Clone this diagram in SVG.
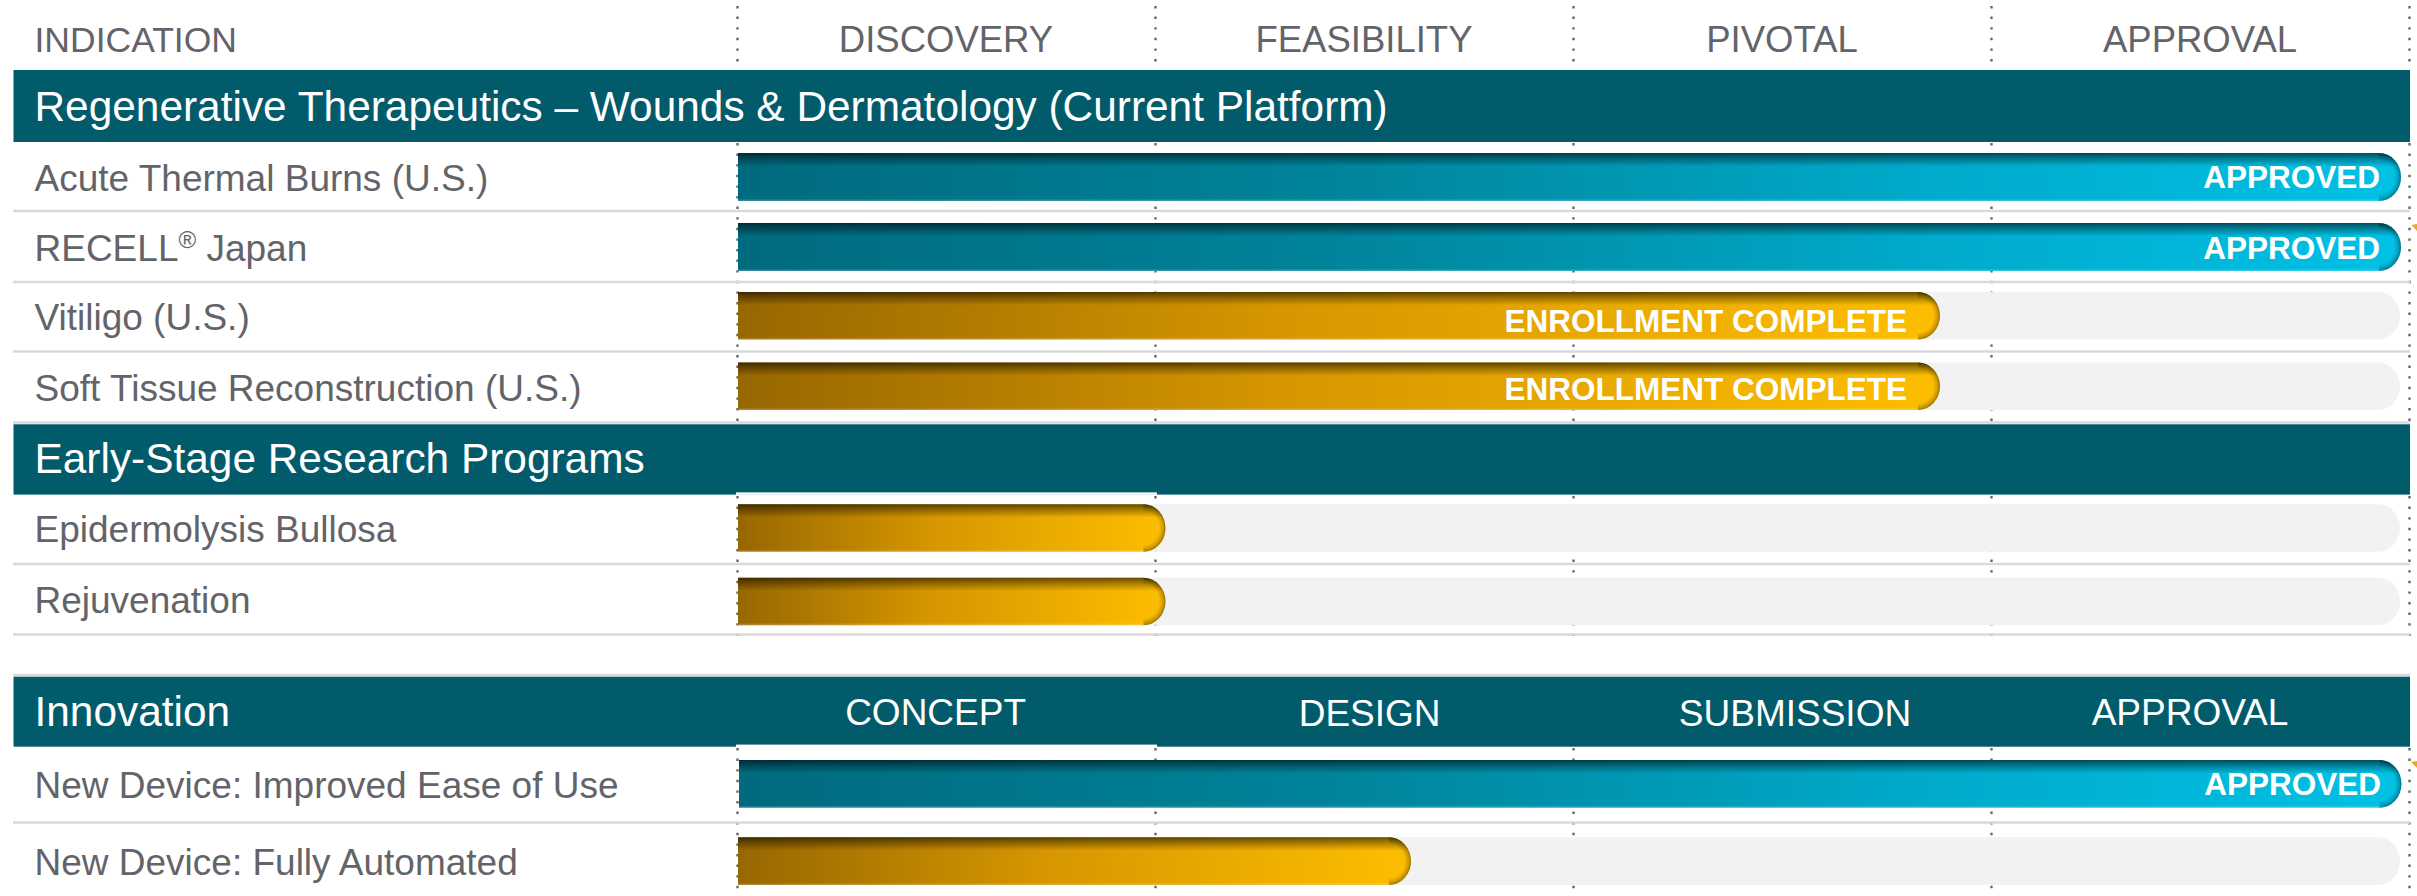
<svg xmlns="http://www.w3.org/2000/svg" width="2417" height="896" viewBox="0 0 2417 896">
<defs>
<style>
.lbl{font-family:"Liberation Sans",Arial,sans-serif;font-size:37px;fill:#636469}
.col{font-family:"Liberation Sans",Arial,sans-serif;font-size:36.5px;fill:#636469;text-anchor:middle}
.hdr{font-family:"Liberation Sans",Arial,sans-serif;font-size:42.4px;fill:#ffffff}
.hcol{font-family:"Liberation Sans",Arial,sans-serif;font-size:37px;fill:#ffffff;text-anchor:middle}
.btxt{font-family:"Liberation Sans",Arial,sans-serif;font-size:31.5px;font-weight:bold;fill:#ffffff;text-anchor:end}
.band{fill:#025b6b}
.sep{stroke:#d9d9d9;stroke-width:2.6}
.grid{stroke:#666;stroke-width:2.4;stroke-dasharray:2.4 8.2;fill:none}
.bg{fill:#f2f2f2}
.teal{fill:url(#gTeal)}
.gold{fill:url(#gGold)}
.shade{fill:url(#gShade)}
.cap{fill:url(#gCap)}
</style>
<linearGradient id="gTeal" x1="0" y1="0" x2="1" y2="0">
<stop offset="0" stop-color="#006a7e"/>
<stop offset="0.35" stop-color="#00839a"/>
<stop offset="0.7" stop-color="#00a9c9"/>
<stop offset="1" stop-color="#00c1e5"/>
</linearGradient>
<linearGradient id="gGold" x1="0" y1="0" x2="1" y2="0">
<stop offset="0" stop-color="#976700"/>
<stop offset="0.45" stop-color="#d69600"/>
<stop offset="1" stop-color="#fdbe00"/>
</linearGradient>
<linearGradient id="gShade" x1="0" y1="0" x2="0" y2="1">
<stop offset="0" stop-color="#000" stop-opacity="0.6"/>
<stop offset="0.08" stop-color="#000" stop-opacity="0.4"/>
<stop offset="0.28" stop-color="#000" stop-opacity="0"/>
<stop offset="0.95" stop-color="#fff" stop-opacity="0"/>
<stop offset="1" stop-color="#fff" stop-opacity="0.25"/>
</linearGradient>
<radialGradient id="gCap" cx="0" cy="0" r="1" gradientTransform="translate(0,0.5) scale(1,0.5)">
<stop offset="0.7" stop-color="#000" stop-opacity="0"/>
<stop offset="0.9" stop-color="#000" stop-opacity="0.2"/>
<stop offset="1" stop-color="#000" stop-opacity="0.4"/>
</radialGradient>
</defs>
<rect width="2417" height="896" fill="#ffffff"/>

<g id="gridlines">
<path class="grid" d="M737.5,6V66M737.5,143V424M737.5,496V636M737.5,748V896"/>
<path class="grid" d="M1155.5,6V66M1155.5,143V424M1155.5,496V636M1155.5,748V896"/>
<path class="grid" d="M1573.5,6V66M1573.5,143V424M1573.5,496V636M1573.5,748V896"/>
<path class="grid" d="M1991.5,6V66M1991.5,143V424M1991.5,496V636M1991.5,748V896"/>
<path class="grid" d="M2409.5,6V66M2409.5,143V424M2409.5,496V636M2409.5,748V896"/>
</g>

<g id="separators">
<line class="sep" x1="13" y1="211" x2="2410" y2="211"/>
<line class="sep" x1="13" y1="282" x2="2410" y2="282"/>
<line class="sep" x1="13" y1="351.5" x2="2410" y2="351.5"/>
<line class="sep" x1="13" y1="422.5" x2="2410" y2="422.5"/>
<line class="sep" x1="13" y1="564" x2="2410" y2="564"/>
<line class="sep" x1="13" y1="634.5" x2="2410" y2="634.5"/>
<line class="sep" x1="13" y1="675" x2="2410" y2="675"/>
<line class="sep" x1="13" y1="822.5" x2="2410" y2="822.5"/>
</g>

<g id="column-header">
<text class="lbl" x="34.5" y="51.7" style="font-size:35.5px">INDICATION</text>
<text class="col" x="946" y="51.7">DISCOVERY</text>
<text class="col" x="1364" y="51.7">FEASIBILITY</text>
<text class="col" x="1782" y="51.7">PIVOTAL</text>
<text class="col" x="2200" y="51.7">APPROVAL</text>
</g>

<g id="section-regenerative">
<rect class="band" x="13.5" y="70" width="2396.5" height="72"/>
<text class="hdr" x="34.5" y="120.5">Regenerative Therapeutics – Wounds &amp; Dermatology (Current Platform)</text>
</g>

<g id="row-acute-thermal-burns">
<text class="lbl" x="34.5" y="190.7">Acute Thermal Burns (U.S.)</text>
<path class="teal" d="M738,153H2379A22,24 0 0 1 2379,201H738Z"/>
<path class="shade" d="M738,153H2379A22,24 0 0 1 2379,201H738Z"/>
<path class="cap" d="M2379,153A22,24 0 0 1 2379,201Z"/>
<text class="btxt" x="2380" y="188.3">APPROVED</text>
</g>

<g id="row-recell-japan">
<text class="lbl" x="34.5" y="260.7">RECELL<tspan style="font-size:24px" dy="-13">®</tspan><tspan dy="13"> Japan</tspan></text>
<path class="teal" d="M738,223H2379A22,24 0 0 1 2379,271H738Z"/>
<path class="shade" d="M738,223H2379A22,24 0 0 1 2379,271H738Z"/>
<path class="cap" d="M2379,223A22,24 0 0 1 2379,271Z"/>
<text class="btxt" x="2380" y="258.5">APPROVED</text>
<polygon points="2411.5,225 2417,224 2417,231" fill="#e3ae22"/>
</g>

<g id="row-vitiligo">
<text class="lbl" x="34.5" y="330">Vitiligo (U.S.)</text>
<path class="bg" d="M738,292H2378A22,23.75 0 0 1 2378,339.5H738Z"/>
<path class="gold" d="M738,292H1918A22,23.75 0 0 1 1918,339.5H738Z"/>
<path class="shade" d="M738,292H1918A22,23.75 0 0 1 1918,339.5H738Z"/>
<path class="cap" d="M1918,292A22,23.75 0 0 1 1918,339.5Z"/>
<text class="btxt" x="1907" y="332.3">ENROLLMENT COMPLETE</text>
</g>

<g id="row-soft-tissue">
<text class="lbl" x="34.5" y="400.7">Soft Tissue Reconstruction (U.S.)</text>
<path class="bg" d="M738,362.5H2378A22,23.75 0 0 1 2378,410H738Z"/>
<path class="gold" d="M738,362.5H1918A22,23.75 0 0 1 1918,410H738Z"/>
<path class="shade" d="M738,362.5H1918A22,23.75 0 0 1 1918,410H738Z"/>
<path class="cap" d="M1918,362.5A22,23.75 0 0 1 1918,410Z"/>
<text class="btxt" x="1907" y="399.5">ENROLLMENT COMPLETE</text>
</g>

<g id="section-early-stage">
<rect class="band" x="13.5" y="424.3" width="2396.5" height="70.3"/>
<rect x="736" y="492.4" width="421" height="2.4" fill="#ffffff"/>
<text class="hdr" x="34.5" y="473.3">Early-Stage Research Programs</text>
</g>

<g id="row-epidermolysis">
<text class="lbl" x="34.5" y="541.7">Epidermolysis Bullosa</text>
<path class="bg" d="M738,504.3H2378A22,23.75 0 0 1 2378,551.8H738Z"/>
<path class="gold" d="M738,504.3H1143.5A22,23.75 0 0 1 1143.5,551.8H738Z"/>
<path class="shade" d="M738,504.3H1143.5A22,23.75 0 0 1 1143.5,551.8H738Z"/>
<path class="cap" d="M1143.5,504.3A22,23.75 0 0 1 1143.5,551.8Z"/>
</g>

<g id="row-rejuvenation">
<text class="lbl" x="34.5" y="613.3">Rejuvenation</text>
<path class="bg" d="M738,577.7H2378A22,23.75 0 0 1 2378,625.2H738Z"/>
<path class="gold" d="M738,577.7H1143.5A22,23.75 0 0 1 1143.5,625.2H738Z"/>
<path class="shade" d="M738,577.7H1143.5A22,23.75 0 0 1 1143.5,625.2H738Z"/>
<path class="cap" d="M1143.5,577.7A22,23.75 0 0 1 1143.5,625.2Z"/>
</g>

<g id="section-innovation">
<rect class="band" x="13.5" y="676.7" width="2396.5" height="70"/>
<rect x="736" y="744.6" width="421" height="2.4" fill="#ffffff"/>
<text class="hdr" x="34.5" y="726">Innovation</text>
<text class="hcol" x="935.6" y="725">CONCEPT</text>
<text class="hcol" x="1369.6" y="726">DESIGN</text>
<text class="hcol" x="1795" y="726">SUBMISSION</text>
<text class="hcol" x="2190" y="725">APPROVAL</text>
</g>

<g id="row-improved-ease">
<text class="lbl" x="34.5" y="798.3">New Device: Improved Ease of Use</text>
<path class="teal" d="M739,760H2379.5A22,23.85 0 0 1 2379.5,807.7H739Z"/>
<path class="shade" d="M739,760H2379.5A22,23.85 0 0 1 2379.5,807.7H739Z"/>
<path class="cap" d="M2379.5,760A22,23.85 0 0 1 2379.5,807.7Z"/>
<text class="btxt" x="2381" y="794.5">APPROVED</text>
<polygon points="2411,762 2417,761 2417,768" fill="#e3ae22"/>
</g>

<g id="row-fully-automated">
<text class="lbl" x="34.5" y="875">New Device: Fully Automated</text>
<path class="bg" d="M738,837.3H2378A22,23.85 0 0 1 2378,885H738Z"/>
<path class="gold" d="M738,837.3H1389A22,23.85 0 0 1 1389,885H738Z"/>
<path class="shade" d="M738,837.3H1389A22,23.85 0 0 1 1389,885H738Z"/>
<path class="cap" d="M1389,837.3A22,23.85 0 0 1 1389,885Z"/>
</g>
</svg>
